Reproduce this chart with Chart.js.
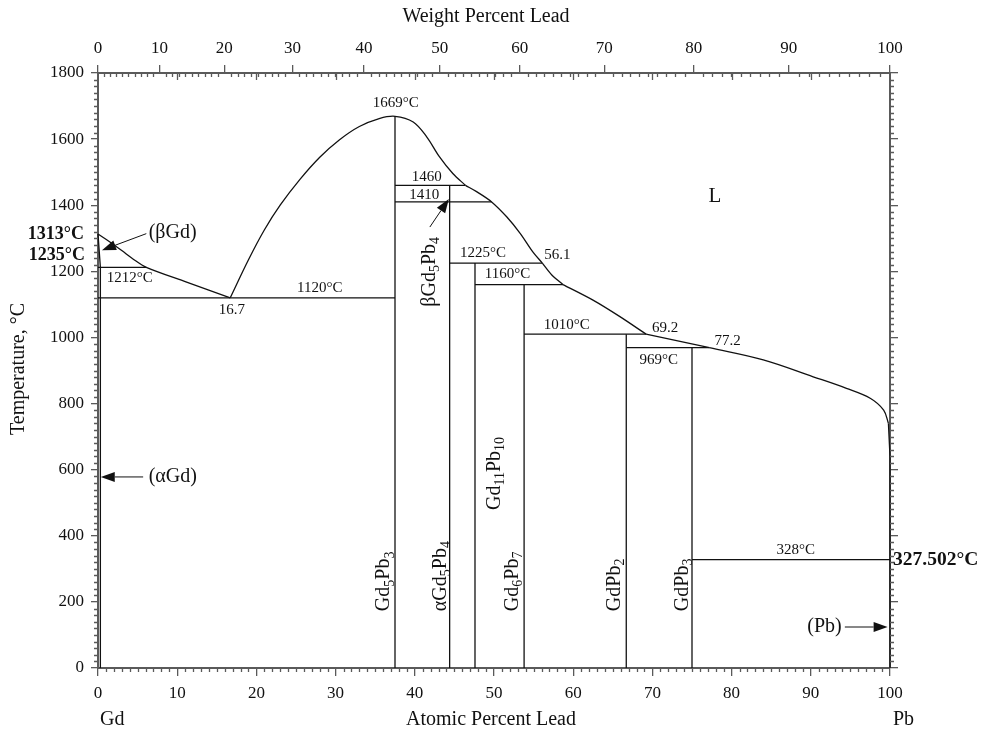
<!DOCTYPE html>
<html>
<head>
<meta charset="utf-8">
<title>Gd-Pb</title>
<script src="https://cdn.jsdelivr.net/npm/chart.js@4.4.1/dist/chart.umd.min.js"></script>
<style>
  html, body { margin: 0; padding: 0; background: #fff; }
  canvas { display: block; }
</style>
</head>
<body>
<canvas id="diagrama" width="985" height="735"></canvas>
<script>
const FONT = "'Liberation Serif', 'Times New Roman', serif";
const INK = "#111";
const AXIS = "#5a5a5a";

// Scales: atomic % Pb (bottom), weight % Pb (top), temperature in °C
const atTicks = [0, 10, 20, 30, 40, 50, 60, 70, 80, 90, 100];
const wtTicks = [0, 10, 20, 30, 40, 50, 60, 70, 80, 90, 100];
const tempTicks = [0, 200, 400, 600, 800, 1000, 1200, 1400, 1600, 1800];

// Phase boundaries, [atomic % Pb, °C]
const betaGdLiquidus = [[0, 1313], [1.5, 1289], [3, 1263], [4.5, 1236], [6.1, 1212], [11.1, 1168], [16.7, 1120]];
const gdSolidus = [[0.3, 0], [0.3, 1212], [0, 1313]];
const domeLiquidus = [[16.7, 1120], [19, 1235], [21, 1325], [23, 1400], [25.5, 1478], [28, 1545], [30.5, 1598],
  [33, 1638], [35.5, 1662], [37.5, 1669], [39.8, 1652], [41.5, 1607], [43.1, 1547], [44.8, 1496], [46.4, 1460]];
const midLiquidus = [[46.4, 1460], [47.8, 1441], [49.7, 1410], [51.6, 1365], [53.3, 1315], [54.9, 1259], [56.1, 1225]];
const shortLiquidus = [[56.1, 1225], [57.3, 1189], [58.7, 1160]];
const lowLiquidus = [[58.7, 1160], [62.5, 1113], [65.9, 1063], [69.2, 1010]];
const gdpb3Liquidus = [[69.2, 1010], [77.2, 969]];
const pbLiquidus = [[77.2, 969], [84, 932], [90.3, 881], [94.5, 846], [97.5, 816], [99.2, 780], [99.8, 740]];
const pbEdge = [[99.8, 740], [100, 640], [100, 327.5], [100, 0]];

// Invariant lines, [from, to, °C]
const isotherms = [
  [0, 6.1, 1212], [0, 37.5, 1120], [37.5, 46.4, 1460], [37.5, 49.7, 1410], [44.4, 56.1, 1225],
  [47.6, 58.7, 1160], [53.8, 69.2, 1010], [66.7, 77.2, 969], [75, 100, 328]
];
// Compounds, [atomic % Pb, top °C]
const compounds = [[37.5, 1669], [44.4, 1460], [47.6, 1225], [53.8, 1160], [66.7, 1010], [75, 969]];

const GD_MASS = 157.25;
const PB_MASS = 207.2;

function wtToAt(w) {
  if (w <= 0) return 0;
  if (w >= 100) return 100;
  const pb = w / PB_MASS;
  const gd = (100 - w) / GD_MASS;
  return 100 * pb / (pb + gd);
}

const tempLabels = [
  { text: "1669°C", at: 37.6, t: 1709 },
  { text: "1460", at: 41.5, t: 1485 },
  { text: "1410", at: 41.2, t: 1432 },
  { text: "1225°C", at: 48.6, t: 1255 },
  { text: "56.1", at: 58.0, t: 1250 },
  { text: "1160°C", at: 51.7, t: 1192 },
  { text: "1010°C", at: 59.2, t: 1037 },
  { text: "69.2", at: 71.6, t: 1028 },
  { text: "969°C", at: 70.8, t: 932 },
  { text: "77.2", at: 79.5, t: 989 },
  { text: "328°C", at: 88.1, t: 357 },
  { text: "1212°C", at: 4.0, t: 1180 },
  { text: "16.7", at: 16.9, t: 1083 },
  { text: "1120°C", at: 28.0, t: 1149 }
];

const phaseLabels = [
  { text: "(βGd)", at: 6.4, t: 1316, align: "left" },
  { text: "(αGd)", at: 6.4, t: 578, align: "left" },
  { text: "(Pb)", at: 93.9, t: 124, align: "right" }
];

const arrows = [
  { from: [6.1, 1314], to: [0.5, 1264] },
  { from: [5.7, 578], to: [0.35, 578] },
  { from: [94.3, 124], to: [99.7, 124] },
  { from: [41.9, 1334], to: [44.3, 1419] }
];

// Rotated compound names: baseline position and starting temperature
const formulaLabels = [
  { text: "Gd_5Pb_3", at: 36.8, t: 172 },
  { text: "αGd_5Pb_4", at: 43.9, t: 172 },
  { text: "Gd_11Pb_10", at: 50.7, t: 478 },
  { text: "Gd_6Pb_7", at: 53.0, t: 172 },
  { text: "GdPb_2", at: 65.9, t: 172 },
  { text: "GdPb_3", at: 74.5, t: 172 },
  { text: "βGd_5Pb_4", at: 42.5, t: 1093 }
];

const datasets = [];

function addLine(points, tension) {
  datasets.push({
    data: points.map(([x, y]) => ({ x, y })),
    showLine: true,
    borderColor: INK,
    borderWidth: 1.3,
    pointRadius: 0,
    tension: tension || 0,
    clip: false
  });
}

addLine(betaGdLiquidus, 0.3);
addLine(gdSolidus, 0);
addLine(domeLiquidus, 0.35);
addLine(midLiquidus, 0.35);
addLine(shortLiquidus, 0.3);
addLine(lowLiquidus, 0.3);
addLine(gdpb3Liquidus, 0);
addLine(pbLiquidus, 0.35);
addLine(pbEdge, 0);
isotherms.forEach(([x1, x2, t]) => addLine([[x1, t], [x2, t]]));
compounds.forEach(([x, t]) => addLine([[x, 0], [x, t]]));

function drawFormula(ctx, text, x, y, size) {
  const parts = text.split(/(_\d+)/).filter(Boolean);
  ctx.save();
  ctx.translate(x, y);
  ctx.rotate(-Math.PI / 2);
  ctx.textAlign = "left";
  ctx.textBaseline = "alphabetic";
  let cx = 0;
  parts.forEach((p) => {
    const sub = p.startsWith("_");
    const t = sub ? p.slice(1) : p;
    ctx.font = `${sub ? Math.round(size * 0.68) : size}px ${FONT}`;
    ctx.fillText(t, cx, sub ? size * 0.22 : 0);
    cx += ctx.measureText(t).width;
  });
  ctx.restore();
}

function drawArrow(ctx, x1, y1, x2, y2) {
  const ang = Math.atan2(y2 - y1, x2 - x1);
  const len = 14;
  const half = 5;
  const bx = x2 - len * Math.cos(ang);
  const by = y2 - len * Math.sin(ang);
  ctx.beginPath();
  ctx.moveTo(x1, y1);
  ctx.lineTo(bx, by);
  ctx.stroke();
  ctx.beginPath();
  ctx.moveTo(x2, y2);
  ctx.lineTo(bx + half * Math.sin(ang), by - half * Math.cos(ang));
  ctx.lineTo(bx - half * Math.sin(ang), by + half * Math.cos(ang));
  ctx.closePath();
  ctx.fill();
}

const decorPlugin = {
  id: "decor",
  afterDraw(chart) {
    const { ctx, chartArea: a, scales } = chart;
    const x = scales.x;
    const y = scales.y;
    const px = (v) => x.getPixelForValue(v);
    const py = (v) => y.getPixelForValue(v);

    ctx.save();
    // minor ticks
    ctx.strokeStyle = AXIS;
    ctx.lineWidth = 1.3;
    ctx.beginPath();
    for (let i = 1; i < 100; i++) {
      if (i % 10 === 0) continue;
      const bx = Math.round(px(i)) + 0.5;
      ctx.moveTo(bx, a.bottom);
      ctx.lineTo(bx, a.bottom + 4);
      const tx = Math.round(px(wtToAt(i))) + 0.5;
      ctx.moveTo(tx, a.top);
      ctx.lineTo(tx, a.top + 4);
    }
    for (let i = 10; i < 100; i += 10) {
      const tx = Math.round(px(i)) + 0.5;
      ctx.moveTo(tx, a.top);
      ctx.lineTo(tx, a.top + 7);
    }
    for (let t = 20; t < 1800; t += 20) {
      if (t % 200 === 0) continue;
      const yy = Math.round(py(t)) + 0.5;
      ctx.moveTo(a.left - 4, yy);
      ctx.lineTo(a.left, yy);
      ctx.moveTo(a.right, yy);
      ctx.lineTo(a.right + 4, yy);
    }
    ctx.stroke();

    ctx.fillStyle = INK;
    ctx.strokeStyle = INK;
    ctx.lineWidth = 1;

    ctx.textAlign = "center";
    ctx.textBaseline = "middle";
    ctx.font = `15px ${FONT}`;
    tempLabels.forEach((l) => ctx.fillText(l.text, px(l.at), py(l.t)));

    ctx.font = `20px ${FONT}`;
    phaseLabels.forEach((l) => {
      ctx.textAlign = l.align;
      ctx.fillText(l.text, px(l.at), py(l.t));
    });

    arrows.forEach((r) => drawArrow(ctx, px(r.from[0]), py(r.from[1]), px(r.to[0]), py(r.to[1])));

    formulaLabels.forEach((l) => drawFormula(ctx, l.text, px(l.at), py(l.t), 20));

    ctx.textAlign = "center";
    ctx.font = `21px ${FONT}`;
    ctx.fillText("L", px(77.9), py(1425));

    // transition temperatures of the pure elements
    ctx.font = `bold 18px ${FONT}`;
    ctx.textAlign = "right";
    ctx.fillText("1313°C", a.left - 14, py(1313));
    ctx.fillText("1235°C", a.left - 13, py(1235) - 4);
    ctx.textAlign = "left";
    ctx.font = `bold 19.5px ${FONT}`;
    ctx.fillText("327.502°C", a.right + 3, py(327.5));

    // axis titles
    ctx.font = `20px ${FONT}`;
    ctx.textAlign = "center";
    ctx.fillText("Weight Percent Lead", 486, 17);
    ctx.fillText("Atomic Percent Lead", 491, 720);
    ctx.textAlign = "left";
    ctx.fillText("Gd", a.left + 2, 720);
    ctx.fillText("Pb", a.right + 3, 720);
    ctx.save();
    ctx.translate(19, 369);
    ctx.rotate(-Math.PI / 2);
    ctx.textAlign = "center";
    ctx.fillText("Temperature, °C", 0, 0);
    ctx.restore();

    ctx.restore();
  }
};

const tickFont = { family: FONT, size: 17 };
const plainLabel = (v) => String(v);
const gridOpts = (len) => ({
  display: true,
  drawOnChartArea: false,
  drawTicks: true,
  tickLength: len,
  color: AXIS,
  lineWidth: 1.3
});
const borderOpts = { display: true, color: AXIS, width: 2 };

new Chart(document.querySelector("#diagrama"), {
  type: "scatter",
  data: { datasets },
  options: {
    responsive: false,
    animation: false,
    devicePixelRatio: 1,
    layout: { padding: 0 },
    plugins: { legend: { display: false }, tooltip: { enabled: false } },
    scales: {
      x: {
        type: "linear",
        position: "bottom",
        min: 0,
        max: 100,
        afterBuildTicks: (s) => { s.ticks = atTicks.map((v) => ({ value: v })); },
        ticks: { font: tickFont, color: INK, padding: 7, maxRotation: 0, autoSkip: false, callback: plainLabel },
        grid: gridOpts(8),
        border: borderOpts,
        afterFit: (s) => { s.height = 67; }
      },
      x2: {
        type: "linear",
        position: "top",
        min: 0,
        max: 100,
        afterBuildTicks: (s) => { s.ticks = wtTicks.map((w) => ({ value: wtToAt(w) })); },
        ticks: {
          font: tickFont, color: INK, padding: 6, maxRotation: 0, autoSkip: false,
          callback: (v, i) => String(wtTicks[i])
        },
        grid: gridOpts(8),
        border: borderOpts,
        afterFit: (s) => { s.height = 73; }
      },
      y: {
        type: "linear",
        position: "left",
        min: 0,
        max: 1800,
        afterBuildTicks: (s) => { s.ticks = tempTicks.map((v) => ({ value: v })); },
        ticks: { font: tickFont, color: INK, padding: 7, autoSkip: false, callback: plainLabel },
        grid: gridOpts(7),
        border: borderOpts,
        afterFit: (s) => { s.width = 98; }
      },
      y2: {
        type: "linear",
        position: "right",
        min: 0,
        max: 1800,
        afterBuildTicks: (s) => { s.ticks = tempTicks.map((v) => ({ value: v })); },
        ticks: { display: false },
        grid: gridOpts(8),
        border: borderOpts,
        afterFit: (s) => { s.width = 95; }
      }
    }
  },
  plugins: [decorPlugin]
});
</script>
</body>
</html>
